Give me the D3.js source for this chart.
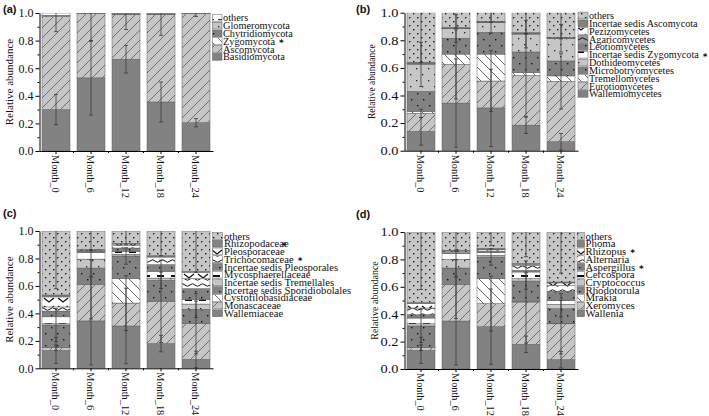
<!DOCTYPE html>
<html><head><meta charset="utf-8">
<script src="https://cdn.jsdelivr.net/npm/d3@7"></script>
<style>body{margin:0;background:#fff} svg{display:block}</style>
</head><body>
<svg id="chart" width="709" height="416"></svg>
<script>
// ---------- DATA ----------
const months = ["Month_0", "Month_6", "Month_12", "Month_18", "Month_24"];
const yTicks = [0, 0.2, 0.4, 0.6, 0.8, 1.0];

// (a) phylum
const seriesA = ["Basidiomycota", "Ascomycota", "Zygomycota", "Chytridiomycota", "Glomeromycota", "others"];
const basidiomycota   = [0.300, 0.530, 0.665, 0.355, 0.205];
const ascomycota      = [0.675, 0.465, 0.325, 0.633, 0.790];
const zygomycota      = [0.004, 0.001, 0.001, 0.001, 0.001];
const chytridiomycota = [0.002, 0.002, 0.006, 0.005, 0.002];
const glomeromycota   = [0.002, 0.001, 0.001, 0.003, 0.001];
const othersA         = [0.017, 0.001, 0.002, 0.003, 0.001];
const errBasidiomycota = [0.110, 0.270, 0.100, 0.145, 0.030];
const errAscomycota    = [0.110, 0.200, 0.110, 0.150, 0.020];

// (b) class
const seriesB = ["Wallemiomycetes", "Eurotiomycetes", "Tremellomycetes", "Microbotryomycetes", "Dothideomycetes",
  "Incertae sedis Zygomycota", "Leotiomycetes", "Agaricomycetes", "Pezizomycetes", "Incertae sedis Ascomycota", "others"];
const wallemiomycetes    = [0.140, 0.345, 0.310, 0.185, 0.065];
const eurotiomycetes     = [0.130, 0.280, 0.195, 0.360, 0.437];
const tremellomycetes    = [0.015, 0.075, 0.195, 0.020, 0.040];
const microbotryomycetes = [0.145, 0.115, 0.158, 0.150, 0.108];
const dothideomycetes    = [0.195, 0.070, 0.072, 0.130, 0.165];
const isZygomycota       = [0.003, 0.001, 0.001, 0.002, 0.001];
const leotiomycetes      = [0.003, 0.001, 0.001, 0.002, 0.001];
const agaricomycetes     = [0.002, 0.001, 0.001, 0.002, 0.001];
const pezizomycetes      = [0.002, 0.001, 0.001, 0.002, 0.001];
const isAscomycota       = [0.005, 0.003, 0.003, 0.002, 0.002];
const othersB            = [0.360, 0.108, 0.063, 0.145, 0.179];
const errWallemiomycetes = [0.100, 0.320, 0.280, 0.060, 0.060];
const errEurotiomycetes  = [0.030, 0.250, 0.220, 0.300, 0.200];
const errDothideomycetes = [0.160, 0.100, 0.080, 0.100, 0.100];
const errOthersB         = [0.360, 0.110, 0.070, 0.150, 0.190];

// (c) family
const seriesC = ["Wallemiaceae", "Monascaceae", "Cystofilobasidiaceae", "Incertae sedis Sporidiobolales",
  "Incertae sedis Tremellales", "Mycosphaerellaceae", "Incertae sedis Pleosporales", "Trichocomaceae",
  "Pleosporaceae", "Rhizopodaceae", "others"];
const wallemiaceae    = [0.130, 0.345, 0.308, 0.180, 0.065];
const monascaceae     = [0.020, 0.265, 0.167, 0.308, 0.260];
const cystofilobasid  = [0.003, 0.000, 0.178, 0.002, 0.002];
const sporidiobolales = [0.162, 0.120, 0.165, 0.151, 0.103];
const tremellales     = [0.010, 0.065, 0.012, 0.016, 0.038];
const mycosphaerell   = [0.050, 0.047, 0.022, 0.049, 0.034];
const pleosporales    = [0.042, 0.012, 0.024, 0.049, 0.078];
const trichocomaceae  = [0.030, 0.004, 0.019, 0.055, 0.073];
const pleosporaceae   = [0.073, 0.004, 0.010, 0.005, 0.047];
const rhizopodaceae   = [0.014, 0.003, 0.005, 0.005, 0.005];
const othersC         = [0.466, 0.135, 0.090, 0.180, 0.295];
const errWallemiaceae = [0.095, 0.320, 0.275, 0.060, 0.060];
const errMonascaceae  = [0.020, 0.250, 0.200, 0.300, 0.220];
const errSporidiob    = [0.120, 0.060, 0.060, 0.060, 0.060];
const errOthersC      = [0.420, 0.140, 0.100, 0.180, 0.300];

// (d) genus
const seriesD = ["Wallenia", "Xeromyces", "Mrakia", "Rhodotorula", "Cryptococcus", "Cercospora",
  "Aspergillus", "Alternaria", "Rhizopus", "Phoma", "others"];
const wallenia     = [0.136, 0.350, 0.309, 0.180, 0.068];
const xeromyces    = [0.020, 0.268, 0.168, 0.309, 0.262];
const mrakia       = [0.002, 0.000, 0.182, 0.002, 0.002];
const rhodotorula  = [0.156, 0.119, 0.159, 0.151, 0.108];
const cryptococcus = [0.016, 0.063, 0.012, 0.018, 0.032];
const cercospora   = [0.042, 0.042, 0.020, 0.048, 0.028];
const aspergillus  = [0.024, 0.007, 0.010, 0.012, 0.067];
const alternaria   = [0.049, 0.006, 0.010, 0.037, 0.043];
const rhizopus     = [0.032, 0.007, 0.005, 0.008, 0.018];
const phoma        = [0.008, 0.003, 0.005, 0.005, 0.007];
const othersD      = [0.515, 0.135, 0.120, 0.230, 0.365];
const errWallenia  = [0.095, 0.320, 0.275, 0.060, 0.060];
const errXeromyces = [0.020, 0.250, 0.200, 0.300, 0.220];
const errRhodotor  = [0.120, 0.060, 0.060, 0.060, 0.060];
const errOthersD   = [0.420, 0.140, 0.100, 0.180, 0.300];

// ---------- DRAWING ----------
const svg = d3.select("#chart");
const defs = svg.append("defs");
const DK = "#828282", LT = "#c6c6c6", LN = "#5a5a5a";

function pat(id, w, h, bg, draw) {
  const p = defs.append("pattern").attr("id", id).attr("patternUnits", "userSpaceOnUse")
    .attr("width", w).attr("height", h);
  p.append("rect").attr("width", w).attr("height", h).attr("fill", bg);
  draw(p);
}
pat("dk", 4, 4, DK, p => {});
pat("ltslash", 10, 10, LT, p => p.append("path").attr("d", "M0,10L10,0M-1,1L1,-1M9,11L11,9")
  .attr("stroke", LN).attr("stroke-width", 0.8));
pat("wtback", 10, 10, "#fff", p => p.append("path").attr("d", "M0,0L10,10M-1,9L1,11M9,-1L11,1")
  .attr("stroke", "#444").attr("stroke-width", 0.8));
pat("ltdots", 12, 12, LT, p => {
  p.append("rect").attr("x", 2).attr("y", 2).attr("width", 1.3).attr("height", 1.3).attr("fill", "#222");
  p.append("rect").attr("x", 8).attr("y", 8).attr("width", 1.3).attr("height", 1.3).attr("fill", "#222");
});
pat("dkdots", 12, 12, DK, p => {
  p.append("rect").attr("x", 3).attr("y", 3).attr("width", 1.4).attr("height", 1.4).attr("fill", "#111");
  p.append("rect").attr("x", 9).attr("y", 9).attr("width", 1.4).attr("height", 1.4).attr("fill", "#111");
});
pat("ltdense", 8, 8, LT, p => {
  p.append("rect").attr("x", 1).attr("y", 1).attr("width", 1.4).attr("height", 1.4).attr("fill", "#1a1a1a");
  p.append("rect").attr("x", 5).attr("y", 5).attr("width", 1.4).attr("height", 1.4).attr("fill", "#1a1a1a");
});
pat("wtdash", 14, 8, "#fff", p => p.append("rect").attr("x", 3).attr("y", 3).attr("width", 7).attr("height", 2).attr("fill", "#111"));
pat("wtsmall", 8, 8, "#fff", p => p.append("rect").attr("x", 2).attr("y", 3).attr("width", 4).attr("height", 1.2).attr("fill", "#333"));
pat("wtwave", 10, 6, "#fff", p => p.append("path").attr("d", "M0,3Q2.5,0.5 5,3T10,3")
  .attr("fill", "none").attr("stroke", "#111").attr("stroke-width", 1.0));
pat("dkwave", 10, 6, "#9a9a9a", p => p.append("path").attr("d", "M0,3Q2.5,0.5 5,3T10,3")
  .attr("fill", "none").attr("stroke", "#111").attr("stroke-width", 1.0));
pat("wtchev", 14, 8, "#fff", p => p.append("path").attr("d", "M2,2L7,6L12,2")
  .attr("fill", "none").attr("stroke", "#111").attr("stroke-width", 1.3));

const panels = [
  { id: "a", names: seriesA,
    values: [basidiomycota, ascomycota, zygomycota, chytridiomycota, glomeromycota, othersA],
    pats: ["dk", "ltslash", "wtback", "dkdots", "ltdots", "wtsmall"],
    errs: [[0, errBasidiomycota], [1, errAscomycota]],
    stars: ["Zygomycota"],
    xr: [38.5, 213.5], yr: [151, 13], tickStretch: false,
    lg: { sx: 212.5, sw: 9.5, tx: 223, y0: 17.8, dy: 7.8, fs: 10.3 },
    title: { x: 12.5, fs: 11 }, label: [3, 13] },
  { id: "b", names: seriesB,
    values: [wallemiomycetes, eurotiomycetes, tremellomycetes, microbotryomycetes, dothideomycetes,
      isZygomycota, leotiomycetes, agaricomycetes, pezizomycetes, isAscomycota, othersB],
    pats: ["dk", "ltslash", "wtback", "dkdots", "ltdots", "wtdash", "dkdots", "dkwave", "wtchev", "dk", "ltdense"],
    errs: [[0, errWallemiomycetes], [1, errEurotiomycetes], [4, errDothideomycetes], [10, errOthersB]],
    stars: ["Incertae sedis Zygomycota"],
    xr: [403.5, 578.5], yr: [150.7, 12.7], tickStretch: true,
    lg: { sx: 578, sw: 10, tx: 589, y0: 15.5, dy: 7.83, fs: 10.2 },
    title: { x: 375, fs: 9.5 }, label: [356, 13] },
  { id: "c", names: seriesC,
    values: [wallemiaceae, monascaceae, cystofilobasid, sporidiobolales, tremellales, mycosphaerell,
      pleosporales, trichocomaceae, pleosporaceae, rhizopodaceae, othersC],
    pats: ["dk", "ltslash", "wtback", "dkdots", "ltdots", "wtdash", "dkdots", "wtwave", "wtchev", "dk", "ltdense"],
    errs: [[0, errWallemiaceae], [1, errMonascaceae], [3, errSporidiob], [10, errOthersC]],
    stars: ["Trichocomaceae", "Rhizopodaceae"],
    xr: [38.5, 213.5], yr: [368.3, 231], tickStretch: false,
    lg: { sx: 212.5, sw: 10, tx: 224, y0: 236, dy: 7.73, fs: 10.6 },
    title: { x: 12.5, fs: 11 }, label: [3, 217] },
  { id: "d", names: seriesD,
    values: [wallenia, xeromyces, mrakia, rhodotorula, cryptococcus, cercospora, aspergillus,
      alternaria, rhizopus, phoma, othersD],
    pats: ["dk", "ltslash", "wtback", "dkdots", "ltdots", "wtdash", "dkdots", "wtwave", "wtchev", "dk", "ltdense"],
    errs: [[0, errWallenia], [1, errXeromyces], [3, errRhodotor], [10, errOthersD]],
    stars: ["Rhizopus", "Aspergillus"],
    xr: [403.5, 578.5], yr: [369, 232], tickStretch: true,
    lg: { sx: 577, sw: 7.5, tx: 585.5, y0: 236, dy: 7.73, fs: 10.8 },
    title: { x: 378, fs: 10 }, label: [356, 218] }
];

const SERIF = "'Liberation Serif','Times New Roman',serif";

panels.forEach(p => {
  const g = svg.append("g");
  const x = d3.scaleBand().domain(months).range(p.xr).paddingInner(0.2).paddingOuter(0.1);
  const y = d3.scaleLinear().domain([0, 1]).range(p.yr);
  const table = months.map((m, i) => {
    const o = { month: m };
    p.names.forEach((n, k) => o[n] = p.values[k][i]);
    return o;
  });
  const layers = d3.stack().keys(p.names)(table);

  const clipId = "clip" + p.id;
  defs.append("clipPath").attr("id", clipId).append("rect")
    .attr("x", p.xr[0]).attr("y", y(1)).attr("width", p.xr[1] - p.xr[0]).attr("height", y(0) - y(1));
  const plot = g.append("g").attr("clip-path", `url(#${clipId})`);

  layers.forEach((L, k) => {
    plot.append("g").selectAll("rect").data(L).join("rect")
      .attr("x", d => x(d.data.month))
      .attr("width", x.bandwidth())
      .attr("y", d => y(d[1]))
      .attr("height", d => Math.max(0, y(d[0]) - y(d[1])))
      .attr("fill", `url(#${p.pats[k]})`)
      .attr("stroke", "#5c5c5c").attr("stroke-width", 0.5);
  });

  // error bars
  p.errs.forEach(([k, e]) => {
    layers[k].forEach((d, i) => {
      const cx = x(d.data.month) + x.bandwidth() / 2;
      const top = d[1];
      const y1 = y(Math.max(0, top - e[i])), y2 = y(Math.min(1, top + e[i]));
      const eg = plot.append("g").attr("stroke", "#3a3a3a").attr("stroke-width", 0.8);
      eg.append("line").attr("x1", cx).attr("x2", cx).attr("y1", y1).attr("y2", y2);
      if (top - e[i] > 0) eg.append("line").attr("x1", cx - 2).attr("x2", cx + 2).attr("y1", y1).attr("y2", y1);
      if (top + e[i] < 1) eg.append("line").attr("x1", cx - 2).attr("x2", cx + 2).attr("y1", y2).attr("y2", y2);
    });
  });

  // y axis
  const ax = p.xr[0] + 1;
  const yAxis = g.append("g").attr("transform", `translate(${ax},0)`)
    .call(d3.axisLeft(y).tickValues(yTicks).tickFormat(d3.format(".1f")).tickSize(4).tickSizeOuter(0));
  yAxis.selectAll("text").attr("font-family", SERIF).attr("font-size", 12).attr("fill", "#111").attr("x", -6);
  if (p.tickStretch) yAxis.selectAll("text").attr("textLength", 18).attr("lengthAdjust", "spacingAndGlyphs");
  g.append("g").attr("transform", `translate(${ax},0)`)
    .call(d3.axisLeft(y).tickValues([0.1, 0.3, 0.5, 0.7, 0.9]).tickFormat("").tickSize(2))
    .select(".domain").remove();

  // x axis
  const xAxis = g.append("g").attr("transform", `translate(0,${p.yr[0]})`)
    .call(d3.axisBottom(x).tickSize(3).tickSizeOuter(0).tickFormat(""));
  xAxis.select(".domain").attr("d", `M${ax},0.5H${p.xr[1]}`);
  const step = x.step();
  months.slice(0, -1).forEach(m => {
    const bx = x(m) + x.bandwidth() + step * 0.1;
    g.append("line").attr("x1", bx).attr("x2", bx).attr("y1", p.yr[0]).attr("y2", p.yr[0] + 2)
      .attr("stroke", "#000");
  });
  g.selectAll(".mlab").data(months).join("text")
    .attr("transform", d => `translate(${x(d) + x.bandwidth() / 2},${p.yr[0] + 4}) rotate(90)`)
    .attr("dy", "0.35em").attr("text-anchor", "start")
    .attr("font-family", SERIF).attr("font-size", 10.3).attr("fill", "#111").text(d => d);

  // y title
  g.append("text")
    .attr("transform", `translate(${p.title.x},${(p.yr[0] + p.yr[1]) / 2}) rotate(-90)`)
    .attr("text-anchor", "middle").attr("font-family", SERIF).attr("font-size", p.title.fs)
    .attr("fill", "#111").text("Relative abundance");

  // panel label
  g.append("text").attr("x", p.label[0]).attr("y", p.label[1])
    .attr("font-family", "'Liberation Sans',Arial,sans-serif").attr("font-weight", "bold")
    .attr("font-size", 11).attr("fill", "#111").text(`(${p.id})`);

  // legend
  const order = p.names.map((n, k) => k).reverse();
  order.forEach((k, r) => {
    const cy = p.lg.y0 + r * p.lg.dy;
    g.append("rect").attr("x", p.lg.sx).attr("y", cy - 3.4).attr("width", p.lg.sw).attr("height", 6.8)
      .attr("fill", `url(#${p.pats[k]})`).attr("stroke", "#5c5c5c").attr("stroke-width", 0.5);
    const t = g.append("text").attr("x", p.lg.tx).attr("y", cy + 3.6)
      .attr("font-family", SERIF).attr("font-size", p.lg.fs).attr("fill", "#111").text(p.names[k]);
    if (p.stars.includes(p.names[k])) {
      const w = t.node().getComputedTextLength();
      const sx = p.names[k] === "Rhizopodaceae" ? p.lg.tx + w - 7 : p.lg.tx + w + 4;
      g.append("text").attr("x", sx).attr("y", cy + 5)
        .attr("font-family", "'DejaVu Sans',sans-serif").attr("font-weight", "bold")
        .attr("font-size", 9).attr("fill", "#111").text("*");
    }
  });
});
</script>
</body></html>
